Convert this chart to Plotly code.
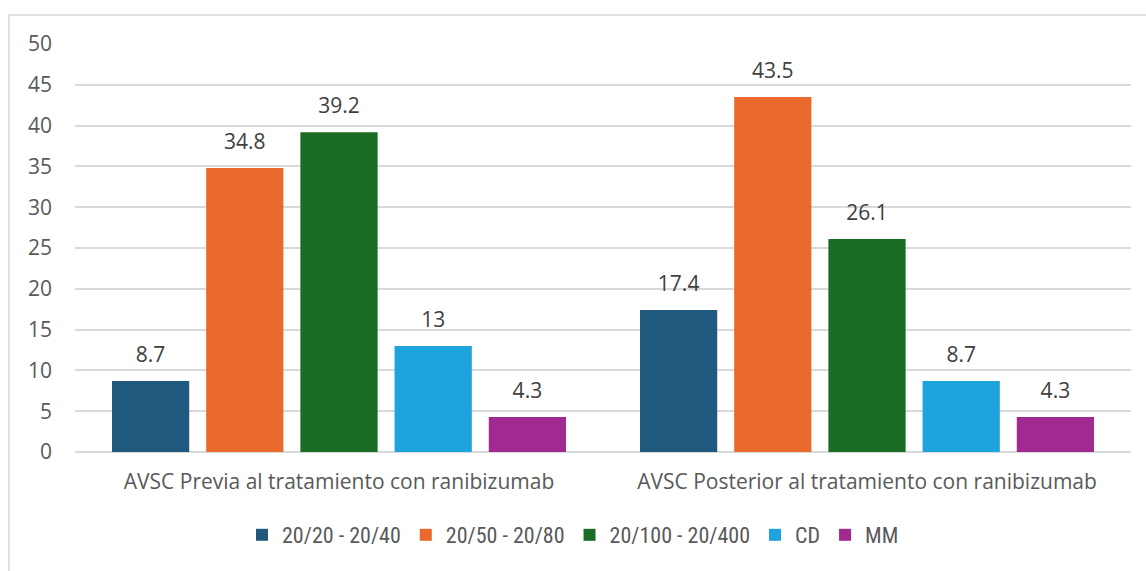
import plotly.graph_objects as go

categories = ["AVSC Previa al tratamiento con ranibizumab",
              "AVSC Posterior al tratamiento con ranibizumab"]
series_names = ["20/20 - 20/40", "20/50 - 20/80", "20/100 - 20/400", "CD", "MM"]
values = {
    "20/20 - 20/40": [8.7, 17.4],
    "20/50 - 20/80": [34.8, 43.5],
    "20/100 - 20/400": [39.2, 26.1],
    "CD": [13, 8.7],
    "MM": [4.3, 4.3],
}
text_labels = {
    "20/20 - 20/40": ["8.7", "17.4"],
    "20/50 - 20/80": ["34.8", "43.5"],
    "20/100 - 20/400": ["39.2", "26.1"],
    "CD": ["13", "8.7"],
    "MM": ["4.3", "4.3"],
}
colors = ["#1f5a7e", "#e96a2c", "#1a6b24", "#1ea3dc", "#a02a90"]
y_ticks = [0, 5, 10, 15, 20, 25, 30, 35, 40, 45, 50]

FONT = "Open Sans, Arial, sans-serif"
LEG_FONT = "Liberation Sans Narrow, Roboto Condensed, Roboto, Arial, sans-serif"
fig = go.Figure()
for name, col in zip(series_names, colors):
    fig.add_trace(go.Bar(
        x=categories, y=values[name], name=name,
        marker=dict(color=col, line=dict(width=0)),
        text=["<span style='font-size:21px'>" + t + "</span><br> " for t in text_labels[name]],
        textposition="outside", constraintext="none",
        textfont=dict(size=10, color="#404040", family=FONT),
        cliponaxis=False,
    ))

W, H = 1146, 571
fig.update_layout(
    width=W, height=H,
    margin=dict(l=75, r=15, t=44, b=119, autoexpand=False),
    paper_bgcolor="white", plot_bgcolor="white",
    font=dict(family=FONT, color="#595959", size=21),
    barmode="group", bargap=0.108, bargroupgap=0.18,
    showlegend=True,
    legend=dict(orientation="h", x=0.5, xanchor="center", xref="container",
                y=1 - 535 / H, yanchor="middle", yref="container",
                font=dict(size=22, color="#595959", family=LEG_FONT), traceorder="normal",
                itemwidth=30, tracegroupgap=0),
    xaxis=dict(showgrid=False, showline=False, ticks="", tickfont=dict(size=21, color="#595959"),
               ticklabelstandoff=15),
    yaxis=dict(range=[0, 50], tickvals=y_ticks, showgrid=True, gridcolor="#d9d9d9", gridwidth=1.5,
               zeroline=True, zerolinecolor="#d9d9d9", zerolinewidth=1.5,
               showline=False, ticks="", tickfont=dict(size=21, color="#595959"),
               ticklabelstandoff=22),
    shapes=[dict(type="rect", xref="paper", yref="paper",
                 x0=-66 / (W - 90), x1=1.05, y0=-0.5, y1=1 + 29 / (H - 163),
                 line=dict(color="#d9d9d9", width=1.5), fillcolor="rgba(0,0,0,0)", layer="below")],
)
fig.write_html("out.html")
